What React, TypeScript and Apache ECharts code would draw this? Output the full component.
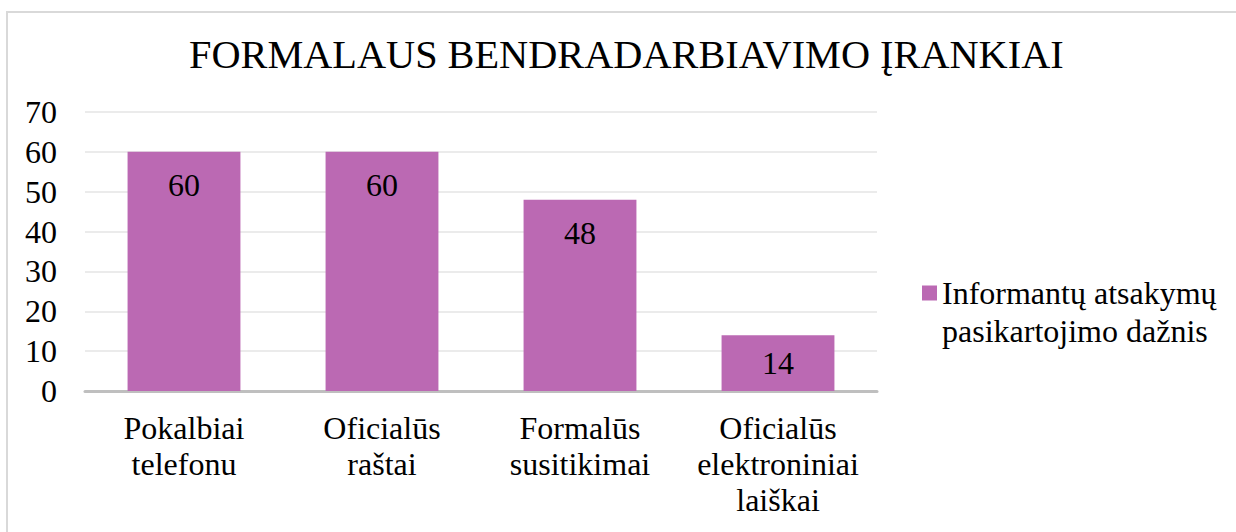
import React, { useEffect, useRef } from "react";
import * as echarts from "echarts";

const categories = [
  "Pokalbiai\ntelefonu",
  "Oficialūs\nraštai",
  "Formalūs\nsusitikimai",
  "Oficialūs\nelektroniniai\nlaiškai",
];
const values = [60, 60, 48, 14];
const seriesName = "Informantų atsakymų\npasikartojimo dažnis";
const titleText = "FORMALAUS BENDRADARBIAVIMO ĮRANKIAI";
const yMin = 0;
const yMax = 70;
const yInterval = 10;

const FONT = "Liberation Serif";

export default function App() {
  const ref = useRef<HTMLDivElement>(null);
  useEffect(() => {
    if (!ref.current) return;
    document.body.style.overflow = "hidden";
    const chart = echarts.init(ref.current, undefined, { renderer: "svg" });
    chart.setOption({
      animation: false,
      backgroundColor: "#ffffff",
      textStyle: { fontFamily: FONT, color: "#000" },
      title: {
        text: titleText,
        left: 184,
        top: 29,
        padding: 5,
        textStyle: { fontFamily: FONT, fontSize: 40.3, fontWeight: "normal", color: "#000" },
      },
      graphic: [
        {
          type: "rect",
          shape: { x: 7, y: 12, width: 1260, height: 600 },
          style: { fill: "none", stroke: "#D9D9D9", lineWidth: 2 },
          silent: true,
          z: 100,
        },
      ],
      legend: {
        left: 917,
        top: 231,
        orient: "vertical",
        itemWidth: 15,
        itemHeight: 15,
        itemGap: 5,
        icon: "rect",
        formatter: (name: string) => "\n" + name,
        textStyle: {
          fontFamily: FONT,
          fontSize: 32,
          color: "#000",
          lineHeight: 38,
        },
        data: [seriesName],
      },
      grid: { left: 85, right: 359, top: 112, bottom: 141, containLabel: false },
      xAxis: {
        type: "category",
        data: categories,
        axisLine: { show: true, lineStyle: { color: "#BFBFBF", width: 3 } },
        axisTick: { show: false },
        axisLabel: {
          fontFamily: FONT,
          fontSize: 32,
          color: "#000",
          lineHeight: 36,
          margin: 19,
          interval: 0,
        },
      },
      yAxis: {
        type: "value",
        min: yMin,
        max: yMax,
        interval: yInterval,
        axisLine: { show: false },
        axisTick: { show: false },
        splitLine: { lineStyle: { color: "#EBEBEB", width: 2 } },
        axisLabel: { fontFamily: FONT, fontSize: 32, color: "#000", margin: 28 },
      },
      series: [
        {
          type: "bar",
          name: seriesName,
          barWidth: "57%",
          itemStyle: { color: "#BB69B3" },
          data: values.map((v) =>
            v < 20
              ? { value: v, label: { position: "inside" } }
              : { value: v }
          ),
          label: {
            show: true,
            position: "insideTop",
            distance: 17,
            fontFamily: FONT,
            fontSize: 32,
            color: "#000",
          },
        },
      ],
    });
    return () => chart.dispose();
  }, []);
  return (
    <div
      ref={ref}
      style={{ position: "fixed", left: 0, top: 0, width: 1236, height: 532 }}
    />
  );
}
